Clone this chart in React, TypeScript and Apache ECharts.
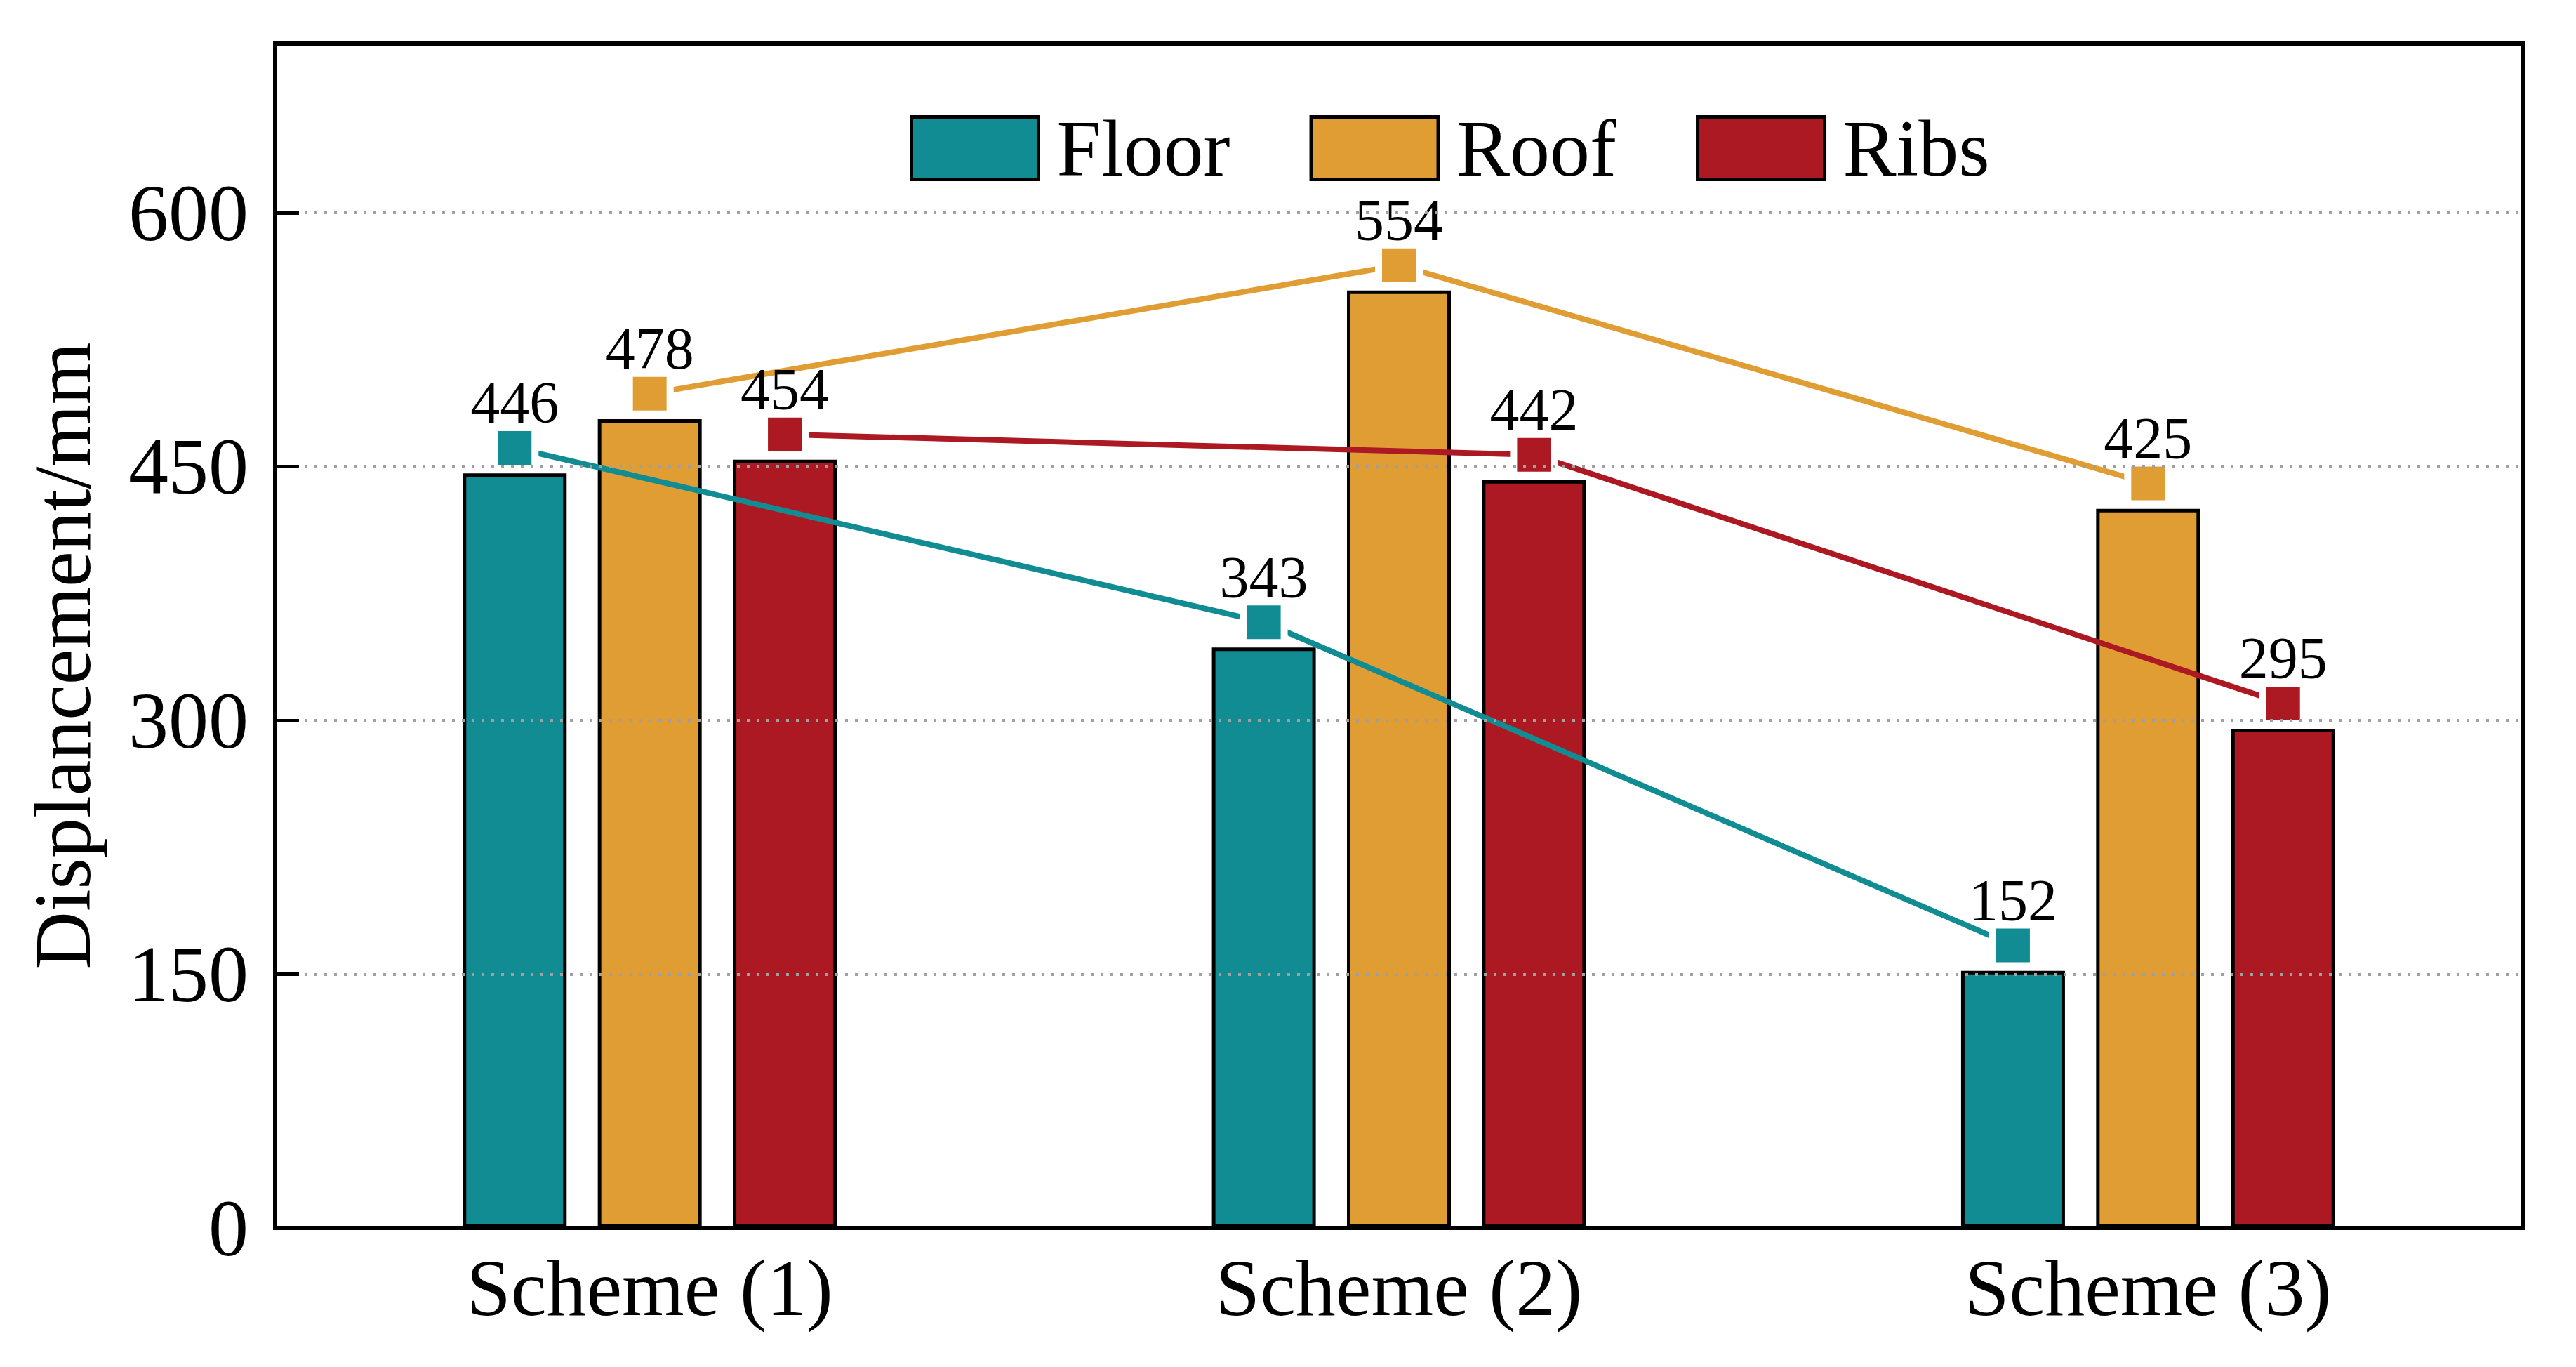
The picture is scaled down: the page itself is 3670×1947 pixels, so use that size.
import React, { useEffect, useRef } from 'react';
import * as echarts from 'echarts';

const categories = ['Scheme (1)', 'Scheme (2)', 'Scheme (3)'];
const seriesNames = ['Floor', 'Roof', 'Ribs'];
const floorValues = [446, 343, 152];
const roofValues = [478, 554, 425];
const ribsValues = [454, 442, 295];
const yMin = 0;
const yMax = 700;
const yInterval = 150;
const yAxisTitle = 'Displancement/mm';

const colors = ['#128C93', '#DF9D33', '#AD1922'];

const W = 3670;
const H = 1947;
const GRID = { left: 392, right: 76, top: 62, bottom: 198 };
const BAR_W = 148;
const BAR_GAP = 0.3;
const MARKER_LIFT = 15;
const MARKER_SIZE = 48;
const MARKER_HALO = 10;
const FONT = "'Liberation Serif', 'Times New Roman', serif";

export default function App() {
  const ref = useRef<HTMLDivElement>(null);
  useEffect(() => {
    document.body.style.margin = '0';
    const chart = echarts.init(ref.current!, null, { renderer: 'svg' });
    const values = [floorValues, roofValues, ribsValues];
    const plotW = W - GRID.left - GRID.right;
    const catW = plotW / categories.length;
    const pitch = (BAR_W * (1 + BAR_GAP)) / catW;
    const n = values.length;

    const bars = values.map((vals, k) => ({
      name: seriesNames[k],
      type: 'bar',
      data: vals,
      barWidth: BAR_W,
      barGap: `${BAR_GAP * 100}%`,
      itemStyle: { color: colors[k], borderColor: '#000', borderWidth: 5 },
      z: 2,
    }));

    const lines = values.map((vals, k) => ({
      name: seriesNames[k] + ' trend',
      type: 'line',
      xAxisIndex: 1,
      yAxisIndex: 0,
      data: vals.map((v, i) => [i + 0.5 + (k - (n - 1) / 2) * pitch, v + MARKER_LIFT, v]),
      symbol: 'rect',
      symbolSize: MARKER_SIZE + MARKER_HALO,
      lineStyle: { color: colors[k], width: 8 },
      itemStyle: { color: colors[k], borderColor: '#fff', borderWidth: MARKER_HALO },
      label: {
        show: true,
        position: 'top',
        distance: -12,
        formatter: (p: any) => String(p.value[2]),
        fontFamily: FONT,
        fontSize: 84,
        color: '#000',
      },
      z: 3,
    }));

    chart.setOption({
      animation: false,
      backgroundColor: '#fff',
      grid: {
        left: GRID.left,
        right: GRID.right,
        top: GRID.top,
        bottom: GRID.bottom,
        show: true,
        borderColor: '#000',
        borderWidth: 6,
        backgroundColor: 'transparent',
        z: 10,
      },
      legend: {
        data: seriesNames,
        left: 1291,
        top: 149,
        icon: 'rect',
        itemWidth: 181,
        itemHeight: 89,
        itemGap: 113,
        itemStyle: { borderColor: '#000', borderWidth: 5 },
        textStyle: {
          fontFamily: FONT,
          fontSize: 114,
          color: '#000',
          padding: [0, 0, 56, 21],
        },
      },
      xAxis: [
        {
          type: 'category',
          data: categories,
          axisLine: { show: true, lineStyle: { color: '#000', width: 6 } },
          axisTick: { show: false },
          axisLabel: { fontFamily: FONT, fontSize: 114, color: '#000', margin: 28 },
          splitLine: { show: false },
          z: 10,
        },
        {
          type: 'value',
          min: 0,
          max: categories.length,
          show: false,
          splitLine: { show: false },
        },
      ],
      yAxis: {
        type: 'value',
        min: yMin,
        max: yMax,
        interval: yInterval,
        name: yAxisTitle,
        nameLocation: 'middle',
        nameGap: 246,
        nameTextStyle: {
          fontFamily: FONT,
          fontSize: 114,
          color: '#000',
          padding: [0, 57, 0, 0],
        },
        axisLine: { show: true, lineStyle: { color: '#000', width: 6 } },
        axisTick: { show: true, inside: true, length: 34, lineStyle: { color: '#000', width: 5 } },
        axisLabel: { fontFamily: FONT, fontSize: 114, color: '#000', margin: 38, showMaxLabel: false },
        splitLine: {
          show: true,
          showMinLine: false,
          showMaxLine: false,
          lineStyle: { color: '#a0a0a0', width: 4, type: [4, 10] },
        },
        z: 10,
      },
      series: [...bars, ...lines],
    });
    return () => chart.dispose();
  }, []);
  return <div ref={ref} style={{ width: W, height: H }} />;
}
